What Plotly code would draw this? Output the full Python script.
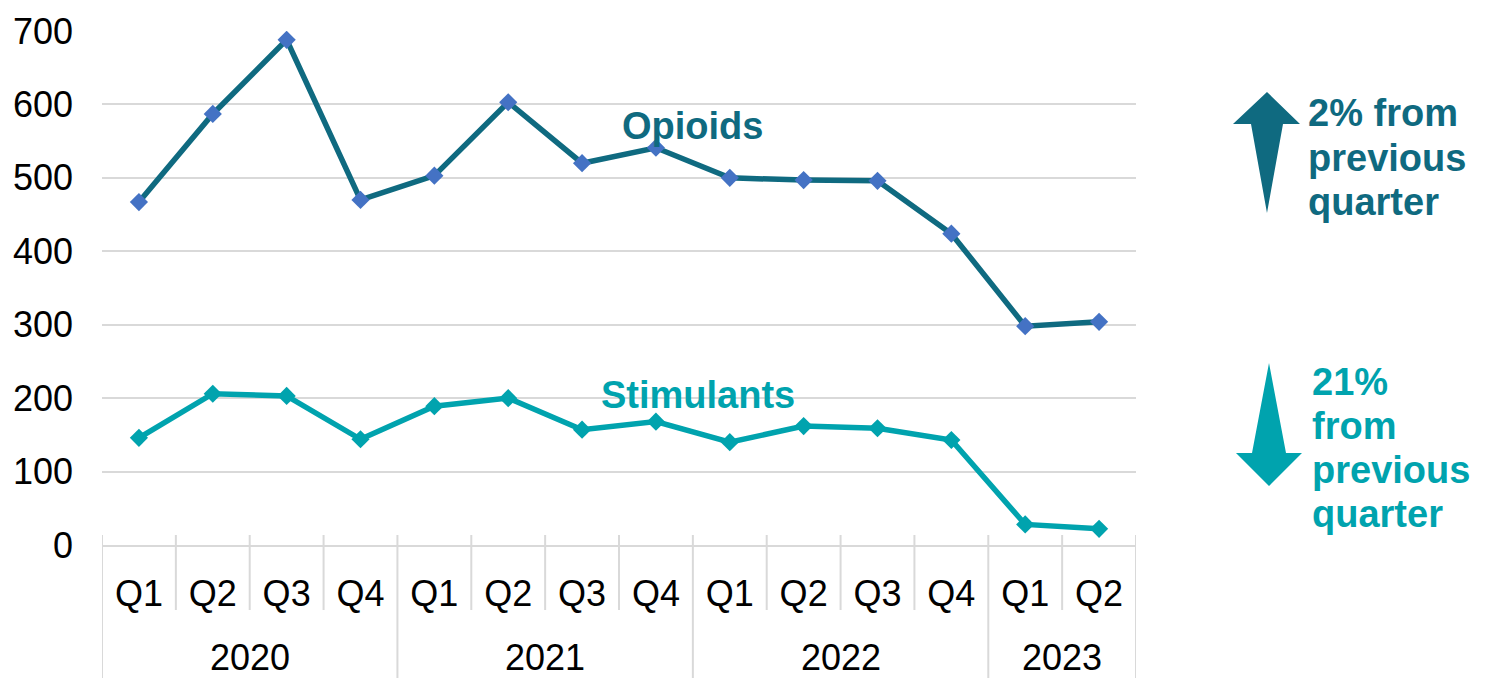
import plotly.graph_objects as go

years = ["2020"] * 4 + ["2021"] * 4 + ["2022"] * 4 + ["2023"] * 2
quarters = ["Q1", "Q2", "Q3", "Q4"] * 3 + ["Q1", "Q2"]
opioids = [467, 587, 688, 470, 503, 603, 520, 541, 500, 497, 496, 424, 298, 304]
stimulants = [146, 206, 203, 144, 189, 200, 157, 168, 140, 162, 159, 143, 28, 22]
y_ticks = [0, 100, 200, 300, 400, 500, 600, 700]

OPI = "#0F6A80"
OPI_MK = "#4472C4"
STI = "#00A3AE"
GRID = "#D9D9D9"
FONT = "Liberation Sans, Arial, sans-serif"
TICK_SIZE = 36
BOLD_SIZE = 38

OFF = 8  # page body margin
W, H = 1490 - OFF, 678 - OFF
# plot area in screen pixels
SX0, SX1, SY0, SY1 = 102, 1136, 31, 545
L, T = SX0 - OFF, SY0 - OFF
R, B = W - (SX1 - OFF), H - (SY1 - OFF)
PW, PH = SX1 - SX0, SY1 - SY0


def px(x):
    return (x - SX0) / PW


def py(y):
    return (SY1 - y) / PH


idx = list(range(len(quarters)))

fig = go.Figure()
fig.add_trace(go.Scatter(
    x=idx, y=opioids, mode="lines+markers", name="Opioids",
    line=dict(color=OPI, width=5.5),
    marker=dict(symbol="diamond", size=14, color=OPI_MK),
))
fig.add_trace(go.Scatter(
    x=idx, y=stimulants, mode="lines+markers", name="Stimulants",
    line=dict(color=STI, width=5.5),
    marker=dict(symbol="diamond", size=14, color=STI),
))

# year groups: labels and dividers derived from the years list
groups = []
for i, yv in enumerate(years):
    if not groups or groups[-1][0] != yv:
        groups.append([yv, i, i])
    else:
        groups[-1][2] = i
year_bounds = [g[1] - 0.5 for g in groups] + [groups[-1][2] + 0.5]
quarter_bounds = [i + 0.5 for i in idx[:-1] if (i + 0.5) not in year_bounds]
for yv, a, b in groups:
    fig.add_annotation(x=(a + b) / 2, y=py(657), xref="x", yref="paper",
                       xanchor="center", yanchor="middle", showarrow=False,
                       text=yv, font=dict(family=FONT, size=TICK_SIZE, color="black"))
for bx in year_bounds:
    fig.add_shape(type="line", xref="x", yref="paper", x0=bx, x1=bx,
                  y0=py(535), y1=py(700), line=dict(color=GRID, width=2), layer="below")
for bx in quarter_bounds:
    fig.add_shape(type="line", xref="x", yref="paper", x0=bx, x1=bx,
                  y0=py(535), y1=py(610), line=dict(color=GRID, width=2), layer="below")

# arrows (decorations)
up = [(1267, 92), (1300, 124), (1283, 124), (1267, 213), (1251, 124), (1233, 124)]
down = [(1269, 363), (1286, 453), (1302, 453), (1269, 486), (1236, 453), (1252, 453)]


def path(pts):
    return "M " + " L ".join(f"{px(a):.5f},{py(b):.5f}" for a, b in pts) + " Z"


fig.add_shape(type="path", xref="paper", yref="paper", path=path(up),
              fillcolor=OPI, line=dict(width=0))
fig.add_shape(type="path", xref="paper", yref="paper", path=path(down),
              fillcolor=STI, line=dict(width=0))

up_lines = [("2% from", 113), ("previous", 158), ("quarter", 202)]
down_lines = [("21%", 382), ("from", 426), ("previous", 470), ("quarter", 514)]
for txt, yy in up_lines:
    fig.add_annotation(x=px(1306), y=py(yy), xref="paper", yref="paper",
                       xanchor="left", yanchor="middle", showarrow=False,
                       text=f"<b>{txt}</b>",
                       font=dict(family=FONT, size=BOLD_SIZE, color=OPI))
for txt, yy in down_lines:
    fig.add_annotation(x=px(1310), y=py(yy), xref="paper", yref="paper",
                       xanchor="left", yanchor="middle", showarrow=False,
                       text=f"<b>{txt}</b>",
                       font=dict(family=FONT, size=BOLD_SIZE, color=STI))
fig.add_annotation(x=px(692), y=py(126), xref="paper", yref="paper",
                   xanchor="center", yanchor="middle",
                   showarrow=False, text="<b>Opioids</b>",
                   font=dict(family=FONT, size=BOLD_SIZE, color=OPI))
fig.add_annotation(x=px(698), y=py(395), xref="paper", yref="paper",
                   xanchor="center", yanchor="middle",
                   showarrow=False, text="<b>Stimulants</b>",
                   font=dict(family=FONT, size=BOLD_SIZE, color=STI))

fig.update_layout(
    width=W, height=H,
    margin=dict(l=L, r=R, t=T, b=B, autoexpand=False),
    paper_bgcolor="white", plot_bgcolor="white",
    showlegend=False,
    font=dict(family=FONT, size=TICK_SIZE, color="black"),
    xaxis=dict(
        range=[-0.5, len(quarters) - 0.5], tickvals=idx, ticktext=quarters,
        showgrid=False, zeroline=False,
        showline=True, linecolor=GRID, linewidth=2,
        ticks="", ticklabelstandoff=16,
        tickfont=dict(family=FONT, size=TICK_SIZE, color="black"),
    ),
    yaxis=dict(
        range=[0, 700], tickvals=y_ticks, showgrid=True, gridcolor=GRID, gridwidth=2,
        zeroline=False, showline=False, ticks="", ticklabelstandoff=28,
        tickfont=dict(family=FONT, size=TICK_SIZE, color="black"),
    ),
)

fig.write_html("out.html")
